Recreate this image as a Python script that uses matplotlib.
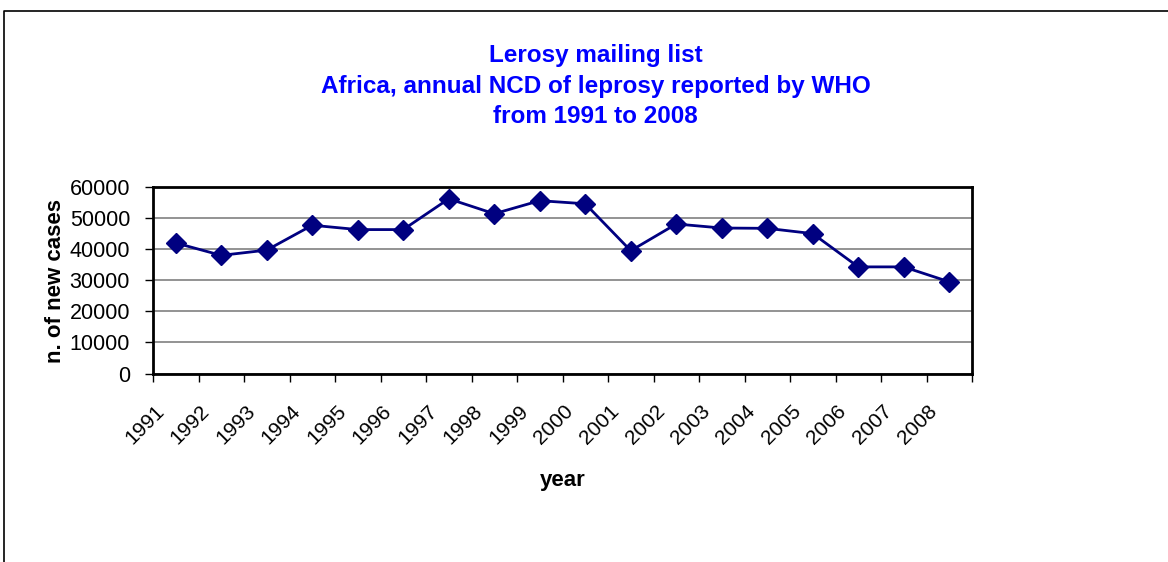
import numpy as np
import matplotlib
matplotlib.use("Agg")
import matplotlib.pyplot as plt
from matplotlib.lines import Line2D
from matplotlib.transforms import ScaledTranslation

years = ["1991", "1992", "1993", "1994", "1995", "1996", "1997", "1998", "1999",
         "2000", "2001", "2002", "2003", "2004", "2005", "2006", "2007", "2008"]
new_cases = [42000, 38000, 39700, 47700, 46300, 46300, 56200, 51400, 55600,
             54600, 39500, 48100, 46800, 46700, 45000, 34300, 34300, 29500]
y_ticks = [0, 10000, 20000, 30000, 40000, 50000, 60000]
title_lines = ["Lerosy mailing list",
               "Africa, annual NCD of leprosy reported by WHO",
               "from 1991 to 2008"]

plt.rcParams['font.family'] = ['Liberation Sans', 'DejaVu Sans']

W, H = 1168, 562
fig = plt.figure(figsize=(W / 100, H / 100), dpi=100)
fig.patch.set_facecolor('white')

# outer chart-area border (left and top edges visible)
fig.add_artist(Line2D([4 / W, 4 / W, 1.0], [0.0, 1 - 11 / H, 1 - 11 / H],
                      transform=fig.transFigure, color='black', lw=1.2))

left, right, top, bottom = 153, 972, 187, 373.5
ax = fig.add_axes([left / W, 1 - bottom / H, (right - left) / W, (bottom - top) / H])

x = np.arange(len(years))
ax.plot(x, new_cases, color='#000080', lw=2, marker='D', markersize=10.5,
        markerfacecolor='#000080', markeredgecolor='#000080', zorder=3,
        clip_on=False)

ax.set_xlim(-0.5, len(years) - 0.5)
ax.set_ylim(0, 60000)
ax.set_yticks(y_ticks)
ax.set_yticklabels([str(v) for v in y_ticks], fontsize=15.5)
ax.yaxis.grid(True, color='#808080', lw=1.2)
ax.set_axisbelow(True)
ax.tick_params(axis='y', direction='out', length=6, width=1, pad=10.5, color='black')

ax.set_xticks(x)
ax.set_xticklabels(years, fontsize=15, rotation=45, ha='right', va='top')
ax.set_xticks(np.arange(-0.5, len(years), 1), minor=True)
ax.tick_params(axis='x', which='major', length=0, pad=20)
ax.tick_params(axis='x', which='minor', direction='out', length=6, width=1, color='black')
for lab in ax.get_xticklabels():
    lab.set_transform(lab.get_transform() + ScaledTranslation(-8 / 100, 0, fig.dpi_scale_trans))

for s in ax.spines.values():
    s.set_linewidth(2)
    s.set_color('black')

# titles
baselines = [62.3, 93.3, 123.3]
for line, b in zip(title_lines, baselines):
    fig.text(595.5 / W, 1 - b / H, line, ha='center', va='baseline',
             fontsize=17.5, fontweight='bold', color='#0000FF')

fig.text(563 / W, 1 - 486 / H, "year", ha='center', va='baseline',
         fontsize=16, fontweight='bold', color='black')
fig.text(56 / W, 1 - 281 / H, "n. of new cases", ha='center', va='center',
         rotation=90, fontsize=16, fontweight='bold', color='black')

fig.savefig("out.png", dpi=100, facecolor='white')
